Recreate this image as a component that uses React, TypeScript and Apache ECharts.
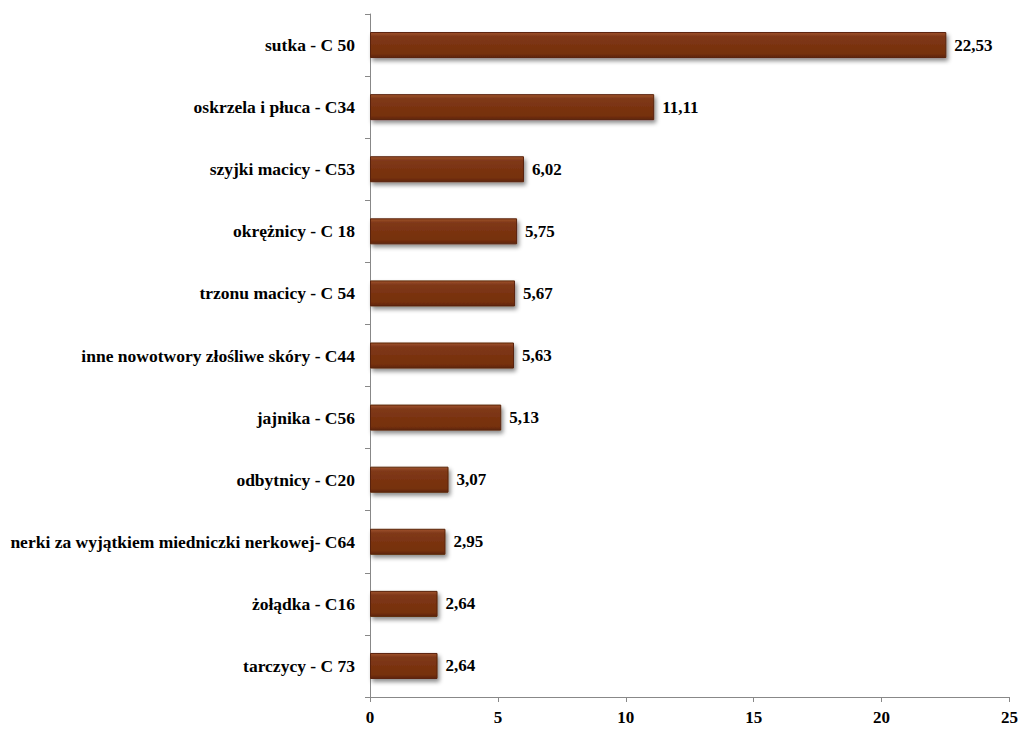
import React, { useEffect, useRef } from "react";
import * as echarts from "echarts";

const categories = [
  "sutka - C 50",
  "oskrzela i płuca - C34",
  "szyjki macicy - C53",
  "okrężnicy - C 18",
  "trzonu macicy - C 54",
  "inne nowotwory złośliwe skóry - C44",
  "jajnika - C56",
  "odbytnicy - C20",
  "nerki za wyjątkiem miedniczki nerkowej- C64",
  "żołądka - C16",
  "tarczycy - C 73",
];
const values = [22.53, 11.11, 6.02, 5.75, 5.67, 5.63, 5.13, 3.07, 2.95, 2.64, 2.64];
const xTicks = { min: 0, max: 25, interval: 5 };

const FONT = "'Liberation Serif', 'Times New Roman', serif";

export default function App() {
  const ref = useRef<HTMLDivElement>(null);
  useEffect(() => {
    if (!ref.current) return;
    const chart = echarts.init(ref.current, undefined, { renderer: "svg" });
    chart.setOption({
      animation: false,
      backgroundColor: "#ffffff",
      grid: { left: 370, right: 11, top: 14, bottom: 34, containLabel: false },
      xAxis: {
        type: "value",
        min: xTicks.min,
        max: xTicks.max,
        interval: xTicks.interval,
        splitLine: { show: false },
        axisLine: { show: true, lineStyle: { color: "#888888", width: 1 } },
        axisTick: { show: true, length: 5, lineStyle: { color: "#888888" } },
        axisLabel: {
          color: "#000",
          fontFamily: FONT,
          fontWeight: "bold",
          fontSize: 17,
          margin: 12,
        },
      },
      yAxis: {
        type: "category",
        data: categories,
        inverse: true,
        axisLine: { show: true, lineStyle: { color: "#888888", width: 1 } },
        axisTick: { show: true, length: 5, lineStyle: { color: "#888888" } },
        axisLabel: {
          color: "#000",
          fontFamily: FONT,
          fontWeight: "bold",
          fontSize: 17.5,
          margin: 15,
        },
      },
      series: [
        {
          type: "bar",
          data: values,
          barWidth: 26,
          itemStyle: {
            color: new echarts.graphic.LinearGradient(0, 0, 0, 1, [
              { offset: 0, color: "#a0532c" },
              { offset: 0.15, color: "#80391a" },
              { offset: 0.5, color: "#7a3311" },
              { offset: 0.85, color: "#76300f" },
              { offset: 1, color: "#5e260a" },
            ]),
            borderColor: "#5a2408",
            borderWidth: 1,
            shadowColor: "rgba(0,0,0,0.45)",
            shadowBlur: 4,
            shadowOffsetX: 2,
            shadowOffsetY: 3,
          },
          label: {
            show: true,
            position: "right",
            distance: 8,
            color: "#000",
            fontFamily: FONT,
            fontWeight: "bold",
            fontSize: 17,
            formatter: (p: any) => p.value.toFixed(2).replace(".", ","),
          },
        },
      ],
    });
    return () => chart.dispose();
  }, []);
  return (
    <div
      ref={ref}
      style={{ position: "absolute", left: 0, top: 0, width: 1021, height: 731 }}
    />
  );
}
